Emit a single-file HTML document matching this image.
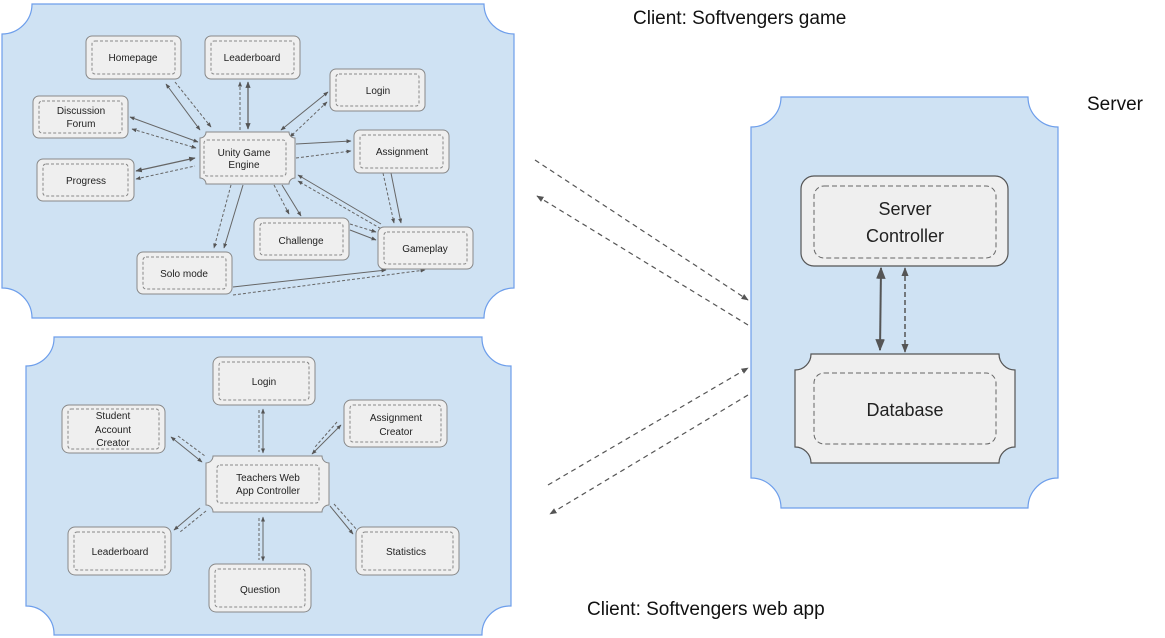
<!DOCTYPE html>
<html><head><meta charset="utf-8"><style>
html,body{margin:0;padding:0;background:#fff;}
svg{display:block;font-family:"Liberation Sans",Arial,sans-serif;}
</style></head><body>
<svg width="1165" height="638" viewBox="0 0 1165 638" xmlns="http://www.w3.org/2000/svg">
<defs>
<marker id="a" viewBox="0 0 10 10" refX="9" refY="5" markerWidth="6" markerHeight="6" orient="auto-start-reverse"><path d="M0,1 L10,5 L0,9 z" fill="#555"/></marker>
<marker id="b" viewBox="0 0 10 10" refX="9" refY="5" markerWidth="5" markerHeight="5" orient="auto-start-reverse"><path d="M0,1 L10,5 L0,9 z" fill="#555"/></marker>
</defs>
<!-- panels -->
<path d="M32,4 H484 A30,30 0 0 0 514,34 V288 A30,30 0 0 0 484,318 H32 A30,30 0 0 0 2,288 V34 A30,30 0 0 0 32,4 Z" fill="#cfe2f3" stroke="#6d9eeb" stroke-width="1.2"/>
<path d="M54,337 H482 A28,28 0 0 0 511,366 V606 A28,28 0 0 0 482,635 H54 A28,28 0 0 0 26,606 V366 A28,28 0 0 0 54,337 Z" fill="#cfe2f3" stroke="#6d9eeb" stroke-width="1.2"/>
<path d="M781,97 H1028 A30,30 0 0 0 1058,127 V478 A30,30 0 0 0 1028,508 H781 A30,30 0 0 0 751,478 V127 A30,30 0 0 0 781,97 Z" fill="#cfe2f3" stroke="#6d9eeb" stroke-width="1.2"/>
<!-- titles -->
<text x="633" y="24" font-size="19" fill="#111">Client: Softvengers game</text>
<text x="1087" y="110" font-size="19" fill="#111">Server</text>
<text x="587" y="615" font-size="19" fill="#111">Client: Softvengers web app</text>
<!-- server nodes -->
<rect x="801" y="176" width="207" height="90" rx="13" fill="#efefef" stroke="#555" stroke-width="1.2"/>
<rect x="814" y="186" width="182" height="72" rx="10" fill="none" stroke="#666" stroke-dasharray="5,3"/>
<text x="905" y="215" font-size="18" text-anchor="middle" fill="#222">Server</text>
<text x="905" y="242" font-size="18" text-anchor="middle" fill="#222">Controller</text>
<path d="M811,354 H999 A16,16 0 0 0 1015,370 V447 A16,16 0 0 0 999,463 H811 A16,16 0 0 0 795,447 V370 A16,16 0 0 0 811,354 Z" fill="#efefef" stroke="#555" stroke-width="1.2"/>
<rect x="814" y="373" width="182" height="71" rx="10" fill="none" stroke="#666" stroke-dasharray="5,3"/>
<text x="905" y="416" font-size="18" text-anchor="middle" fill="#222">Database</text>
<line x1="881" y1="268" x2="880" y2="350" stroke="#555" stroke-width="2" marker-start="url(#a)" marker-end="url(#a)"/>
<line x1="905" y1="268" x2="905" y2="352" stroke="#555" stroke-width="1.5" stroke-dasharray="5,3" marker-start="url(#a)" marker-end="url(#a)"/>
<!-- cross arrows -->
<g stroke="#555" stroke-width="1.2" stroke-dasharray="5,4" fill="none">
<line x1="535" y1="160" x2="748" y2="300" marker-end="url(#a)"/>
<line x1="748" y1="325" x2="537" y2="196" marker-end="url(#a)"/>
<line x1="548" y1="485" x2="748" y2="368" marker-end="url(#a)"/>
<line x1="748" y1="395" x2="550" y2="514" marker-end="url(#a)"/>
</g>
<!-- top edges -->
<g stroke="#666" stroke-width="1" fill="none">
<line x1="166" y1="84" x2="200" y2="130" marker-start="url(#b)" marker-end="url(#b)"/>
<line x1="175" y1="82" x2="211" y2="127" stroke-dasharray="3,2" marker-end="url(#b)"/>
<line x1="240" y1="130" x2="240" y2="82" stroke-dasharray="3,2" marker-end="url(#b)"/>
<line x1="248" y1="82" x2="248" y2="129" stroke-width="1.3" marker-start="url(#b)" marker-end="url(#b)"/>
<line x1="328" y1="92" x2="281" y2="130" marker-start="url(#b)" marker-end="url(#b)"/>
<line x1="327" y1="102" x2="290" y2="137" stroke-dasharray="3,2" marker-start="url(#b)" marker-end="url(#b)"/>
<line x1="130" y1="117" x2="198" y2="142" marker-start="url(#b)" marker-end="url(#b)"/>
<line x1="132" y1="129" x2="196" y2="148" stroke-dasharray="3,2" marker-start="url(#b)" marker-end="url(#b)"/>
<line x1="136" y1="171" x2="195" y2="158" stroke-width="1.3" marker-start="url(#b)" marker-end="url(#b)"/>
<line x1="136" y1="179" x2="195" y2="166" stroke-dasharray="3,2" marker-start="url(#b)"/>
<line x1="296" y1="144" x2="351" y2="141" marker-end="url(#b)"/>
<line x1="296" y1="158" x2="351" y2="151" stroke-dasharray="3,2" marker-end="url(#b)"/>
<line x1="383" y1="173" x2="394" y2="223" stroke-dasharray="3,2" marker-end="url(#b)"/>
<line x1="391" y1="173" x2="401" y2="223" marker-end="url(#b)"/>
<line x1="274" y1="185" x2="289" y2="214" stroke-dasharray="3,2" marker-end="url(#b)"/>
<line x1="282" y1="185" x2="301" y2="216" marker-end="url(#b)"/>
<line x1="231" y1="185" x2="214" y2="248" stroke-dasharray="3,2" marker-end="url(#b)"/>
<line x1="243" y1="185" x2="224" y2="248" marker-end="url(#b)"/>
<line x1="381" y1="224" x2="298" y2="175" marker-end="url(#b)"/>
<line x1="385" y1="231" x2="298" y2="181" stroke-dasharray="3,2" marker-end="url(#b)"/>
<line x1="350" y1="224" x2="376" y2="232" stroke-dasharray="3,2" marker-end="url(#b)"/>
<line x1="350" y1="230" x2="376" y2="240" marker-end="url(#b)"/>
<line x1="233" y1="287" x2="386" y2="270" marker-end="url(#b)"/>
<line x1="233" y1="295" x2="425" y2="270" stroke-dasharray="3,2" marker-end="url(#b)"/>
</g>
<!-- bottom edges -->
<g stroke="#666" stroke-width="1" fill="none">
<line x1="263" y1="409" x2="263" y2="453" marker-start="url(#b)" marker-end="url(#b)"/>
<line x1="259" y1="410" x2="259" y2="452" stroke-dasharray="3,2"/>
<line x1="171" y1="437" x2="202" y2="462" marker-start="url(#b)" marker-end="url(#b)"/>
<line x1="178" y1="436" x2="205" y2="456" stroke-dasharray="3,2"/>
<line x1="341" y1="425" x2="312" y2="454" marker-start="url(#b)" marker-end="url(#b)"/>
<line x1="337" y1="422" x2="315" y2="447" stroke-dasharray="3,2"/>
<line x1="200" y1="508" x2="174" y2="530" marker-end="url(#b)"/>
<line x1="206" y1="511" x2="180" y2="532" stroke-dasharray="3,2"/>
<line x1="330" y1="506" x2="353" y2="534" marker-end="url(#b)"/>
<line x1="334" y1="504" x2="357" y2="530" stroke-dasharray="3,2"/>
<line x1="263" y1="517" x2="263" y2="561" marker-start="url(#b)" marker-end="url(#b)"/>
<line x1="259" y1="518" x2="259" y2="560" stroke-dasharray="3,2"/>
</g>
<!-- node boxes -->
<g font-size="10" fill="#222" text-anchor="middle">
<g>
<rect x="86" y="36" width="95" height="43" rx="6" fill="#efefef" stroke="#888"/><rect x="92" y="41" width="83" height="33" rx="3" fill="none" stroke="#888" stroke-dasharray="3,2"/><text x="133" y="61">Homepage</text>
<rect x="205" y="36" width="95" height="43" rx="6" fill="#efefef" stroke="#888"/><rect x="211" y="41" width="83" height="33" rx="3" fill="none" stroke="#888" stroke-dasharray="3,2"/><text x="252" y="61">Leaderboard</text>
<rect x="330" y="69" width="95" height="42" rx="6" fill="#efefef" stroke="#888"/><rect x="336" y="74" width="83" height="32" rx="3" fill="none" stroke="#888" stroke-dasharray="3,2"/><text x="378" y="94">Login</text>
<rect x="33" y="96" width="95" height="42" rx="6" fill="#efefef" stroke="#888"/><rect x="39" y="101" width="83" height="32" rx="3" fill="none" stroke="#888" stroke-dasharray="3,2"/><text x="81" y="114">Discussion</text><text x="81" y="127">Forum</text>
<rect x="354" y="130" width="95" height="43" rx="6" fill="#efefef" stroke="#888"/><rect x="360" y="135" width="83" height="33" rx="3" fill="none" stroke="#888" stroke-dasharray="3,2"/><text x="402" y="155">Assignment</text>
<rect x="37" y="159" width="97" height="42" rx="6" fill="#efefef" stroke="#888"/><rect x="43" y="164" width="85" height="32" rx="3" fill="none" stroke="#888" stroke-dasharray="3,2"/><text x="86" y="184">Progress</text>
<rect x="254" y="218" width="95" height="42" rx="6" fill="#efefef" stroke="#888"/><rect x="260" y="223" width="83" height="32" rx="3" fill="none" stroke="#888" stroke-dasharray="3,2"/><text x="301" y="244">Challenge</text>
<rect x="378" y="227" width="95" height="42" rx="6" fill="#efefef" stroke="#888"/><rect x="384" y="232" width="83" height="32" rx="3" fill="none" stroke="#888" stroke-dasharray="3,2"/><text x="425" y="252">Gameplay</text>
<rect x="137" y="252" width="95" height="42" rx="6" fill="#efefef" stroke="#888"/><rect x="143" y="257" width="83" height="32" rx="3" fill="none" stroke="#888" stroke-dasharray="3,2"/><text x="184" y="277">Solo mode</text>
<path d="M206,132 H289 A6,6 0 0 0 295,138 V178 A6,6 0 0 0 289,184 H206 A6,6 0 0 0 200,178 V138 A6,6 0 0 0 206,132 Z" fill="#efefef" stroke="#888"/><rect x="204" y="140" width="82" height="36" rx="3" fill="none" stroke="#888" stroke-dasharray="3,2"/><text x="244" y="156">Unity Game</text><text x="244" y="168">Engine</text>
</g>
<g>
<rect x="213" y="357" width="102" height="48" rx="7" fill="#efefef" stroke="#888"/><rect x="219" y="362" width="90" height="38" rx="3" fill="none" stroke="#888" stroke-dasharray="3,2"/><text x="264" y="385">Login</text>
<rect x="62" y="405" width="103" height="48" rx="7" fill="#efefef" stroke="#888"/><rect x="68" y="409" width="91" height="40" rx="3" fill="none" stroke="#888" stroke-dasharray="3,2"/><text x="113" y="419">Student</text><text x="113" y="433">Account</text><text x="113" y="446">Creator</text>
<rect x="344" y="400" width="103" height="47" rx="7" fill="#efefef" stroke="#888"/><rect x="350" y="405" width="91" height="37" rx="3" fill="none" stroke="#888" stroke-dasharray="3,2"/><text x="396" y="421">Assignment</text><text x="396" y="435">Creator</text>
<rect x="68" y="527" width="103" height="48" rx="7" fill="#efefef" stroke="#888"/><rect x="74" y="532" width="91" height="38" rx="3" fill="none" stroke="#888" stroke-dasharray="3,2"/><text x="120" y="555">Leaderboard</text>
<rect x="356" y="527" width="103" height="48" rx="7" fill="#efefef" stroke="#888"/><rect x="362" y="532" width="91" height="38" rx="3" fill="none" stroke="#888" stroke-dasharray="3,2"/><text x="406" y="555">Statistics</text>
<rect x="209" y="564" width="102" height="48" rx="7" fill="#efefef" stroke="#888"/><rect x="215" y="569" width="90" height="38" rx="3" fill="none" stroke="#888" stroke-dasharray="3,2"/><text x="260" y="593">Question</text>
<path d="M213,456 H322 A7,7 0 0 0 329,463 V505 A7,7 0 0 0 322,512 H213 A7,7 0 0 0 206,505 V463 A7,7 0 0 0 213,456 Z" fill="#efefef" stroke="#888"/><rect x="217" y="465" width="102" height="38" rx="3" fill="none" stroke="#888" stroke-dasharray="3,2"/><text x="268" y="481">Teachers Web</text><text x="268" y="494">App Controller</text>
</g>
</g>
</svg>
</body></html>
